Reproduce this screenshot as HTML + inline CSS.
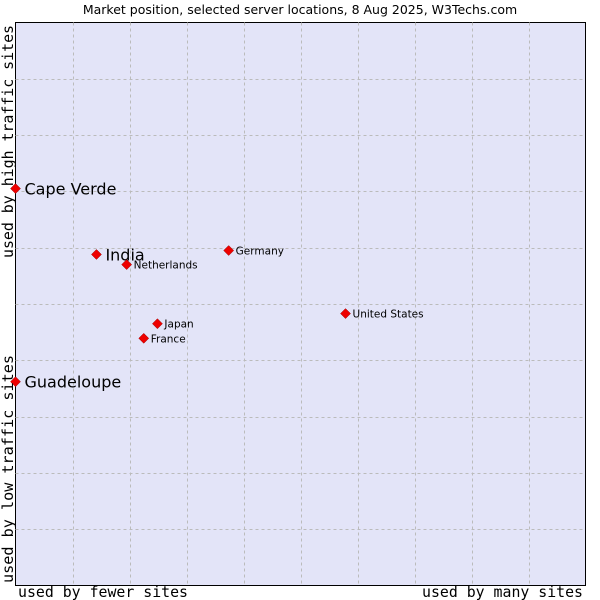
<!DOCTYPE html>
<html><head><meta charset="utf-8"><style>
body{margin:0;background:#fff;}
svg{display:block;font-family:"DejaVu Sans","Liberation Sans",sans-serif;}
</style></head><body>
<svg id="chart" width="600" height="600">
<text x="300" y="14" text-anchor="middle" font-size="12.5" fill="#000">Market position, selected server locations, 8 Aug 2025, W3Techs.com</text>
<rect x="15.5" y="22.5" width="570" height="563" fill="#e3e4f8" stroke="#000"/>
<g id="grid"></g>
<g id="points"></g>
<text x="18" y="597" textLength="170" lengthAdjust="spacingAndGlyphs" font-family="DejaVu Sans Mono,Liberation Mono,monospace" font-size="15">used by fewer sites</text>
<text x="422" y="597" textLength="161" lengthAdjust="spacingAndGlyphs" font-family="DejaVu Sans Mono,Liberation Mono,monospace" font-size="15">used by many sites</text>
<text transform="translate(13,583) rotate(-90)" textLength="228" lengthAdjust="spacingAndGlyphs" font-family="DejaVu Sans Mono,Liberation Mono,monospace" font-size="15">used by low traffic sites</text>
<text transform="translate(13,258) rotate(-90)" textLength="233" lengthAdjust="spacingAndGlyphs" font-family="DejaVu Sans Mono,Liberation Mono,monospace" font-size="15">used by high traffic sites</text>
</svg>
<script>
const names=["Cape Verde","India","Netherlands","Germany","United States","Japan","France","Guadeloupe"];
const xVals=[0,14.2,19.5,37.4,57.9,24.9,22.5,0];
const yVals=[70.5,58.8,57,59.5,48.3,46.5,43.9,36.2];
const big=[true,true,false,false,false,false,false,true];
const NS="http://www.w3.org/2000/svg";
const L=15.5,R=585.5,T=22.5,B=585.5;
const sx=v=>L+(R-L)*v/100, sy=v=>B-(B-T)*v/100;
const g=document.getElementById('grid');
for(let i=1;i<10;i++){
  const v=document.createElementNS(NS,'line');
  
  
  v.setAttribute('x1',Math.round(sx(i*10))+0.5);v.setAttribute('x2',Math.round(sx(i*10))+0.5);
  v.setAttribute('y1',T);v.setAttribute('y2',B);
  v.setAttribute('stroke','#bbb');v.setAttribute('stroke-dasharray','3,3');g.appendChild(v);
  const h=document.createElementNS(NS,'line');
  
  
  h.setAttribute('y1',Math.round(sy(i*10))+0.5);h.setAttribute('y2',Math.round(sy(i*10))+0.5);
  h.setAttribute('x1',L);h.setAttribute('x2',R);
  h.setAttribute('stroke','#bbb');h.setAttribute('stroke-dasharray','3,3');g.appendChild(h);
}
const p=document.getElementById('points');
names.forEach((n,i)=>{
  const x=sx(xVals[i]),y=sy(yVals[i]);
  const d=document.createElementNS(NS,'polygon');
  
  
  d.setAttribute('points',`${x},${y-5} ${x+5},${y} ${x},${y+5} ${x-5},${y}`);
  d.setAttribute('fill','#e00');d.setAttribute('stroke','#900');d.setAttribute('stroke-width','0.5');
  p.appendChild(d);
  const t=document.createElementNS(NS,'text');
  
  
  t.setAttribute('x',x+(big[i]?9:7));t.setAttribute('y',y+(big[i]?6:4));
  t.setAttribute('font-size',big[i]?'16':'10.5');
  t.textContent=n;p.appendChild(t);
});
</script>
</body></html>
